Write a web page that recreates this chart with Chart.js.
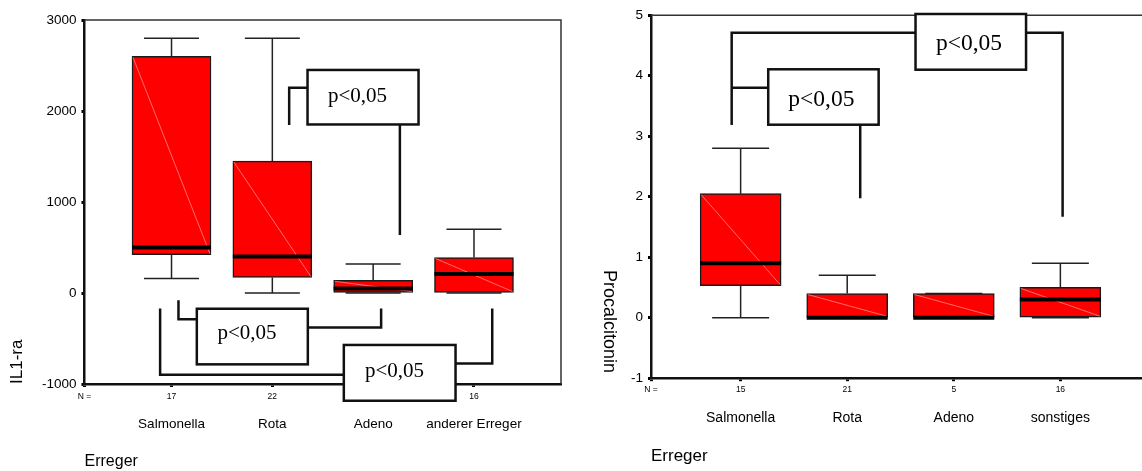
<!DOCTYPE html>
<html><head><meta charset="utf-8">
<script src="https://cdn.jsdelivr.net/npm/chart.js@4.4.1/dist/chart.umd.min.js"></script>
<style>
html,body{margin:0;padding:0;overflow:hidden;background:#fff;width:1142px;height:471px}
canvas{position:absolute;top:0}
#c1{left:0}
#c2{left:571px}
</style></head><body>
<canvas id="c1" width="571" height="471"></canvas>
<canvas id="c2" width="589" height="471"></canvas>
<script>
// ---------- Left chart data (IL1-ra) ----------
const leftCategories = ['Salmonella', 'Rota', 'Adeno', 'anderer Erreger'];
const leftN = ['17', '22', '', '16'];
const leftWhiskerLow = [160, 0, 0, 0];
const leftQ1 = [420, 170, 0, 0];
const leftMedian = [500, 400, 50, 210];
const leftQ3 = [2600, 1450, 140, 390];
const leftWhiskerHigh = [2800, 2800, 320, 700];
const leftYTicks = [-1000, 0, 1000, 2000, 3000];

// ---------- Right chart data (Procalcitonin) ----------
const rightCategories = ['Salmonella', 'Rota', 'Adeno', 'sonstiges'];
const rightN = ['15', '21', '5', '16'];
const rightWhiskerLow = [0, 0, 0, 0];
const rightQ1 = [0.53, 0, 0, 0];
const rightMedian = [0.9, 0, 0, 0.3];
const rightQ3 = [2.05, 0.4, 0.4, 0.5];
const rightWhiskerHigh = [2.8, 0.7, 0.4, 0.9];
const rightYTicks = [-1, 0, 1, 2, 3, 4, 5];

const sigLabel = 'p<0,05';

// significance annotations, in data units (x: category index, y: value)
const leftBrackets = [
  { box: [2.349, 3.450, 2451, 1852], text: [2.551, 2102],
    lines: [[[2.167, 1846], [2.167, 2256], [2.349, 2256]], [[3.265, 1852], [3.265, 637]]] },
  { box: [1.251, 2.352, -173, -784], text: [1.456, -510],
    lines: [[[1.069, -80], [1.069, -289], [1.251, -289]], [[2.352, -380], [3.079, -380], [3.079, -169]]] },
  { box: [2.709, 3.817, -571, -1184], text: [2.918, -926],
    lines: [[[0.887, -169], [0.887, -898], [2.709, -898]], [[3.817, -776], [4.181, -776], [4.181, -169]]] }
];
const rightBrackets = [
  { box: [1.259, 2.295, 4.106, 3.190], text: [1.447, 3.499],
    lines: [[[0.916, 3.185], [0.916, 4.711], [2.641, 4.711]], [[0.916, 3.802], [1.259, 3.802]], [[2.122, 3.190], [2.122, 1.974]]] },
  { box: [2.641, 3.678, 5.020, 4.099], text: [2.832, 4.425],
    lines: [[[3.678, 4.711], [4.021, 4.711], [4.021, 1.669]]] }
];

Chart.defaults.font.family = "'Liberation Sans', Arial, sans-serif";
Chart.defaults.color = '#000';

function boxPlugin(s) {
  return {
    id: 'boxplot_' + s.id,
    beforeDatasetsDraw(chart) {
      const ctx = chart.ctx, xs = chart.scales.x, ys = chart.scales.y;
      ctx.save();
      ctx.strokeStyle = '#222';
      ctx.lineWidth = 1.5;
      s.low.forEach((lo, i) => {
        const x = xs.getPixelForValue(i + 1);
        const yl = ys.getPixelForValue(lo), yq1 = ys.getPixelForValue(s.q1[i]);
        const yh = ys.getPixelForValue(s.high[i]), yq3 = ys.getPixelForValue(s.q3[i]);
        ctx.beginPath();
        ctx.moveTo(x, yq3); ctx.lineTo(x, yh);
        ctx.moveTo(x - s.cap / 2, yh); ctx.lineTo(x + s.cap / 2, yh);
        ctx.moveTo(x, yq1); ctx.lineTo(x, yl);
        ctx.moveTo(x - s.cap / 2, yl); ctx.lineTo(x + s.cap / 2, yl);
        ctx.stroke();
      });
      ctx.restore();
    },
    afterDatasetsDraw(chart) {
      const ctx = chart.ctx, ys = chart.scales.y;
      const meta = chart.getDatasetMeta(0);
      ctx.save();
      meta.data.forEach((el, i) => {
        const p = el.getProps(['x', 'y', 'base', 'width'], true);
        const l = p.x - p.width / 2 + 1, r = p.x + p.width / 2 - 1;
        const t = Math.min(p.y, p.base) + 1, b = Math.max(p.y, p.base) - 1;
        ctx.strokeStyle = 'rgba(255,170,170,0.9)';
        ctx.lineWidth = 0.7;
        ctx.beginPath(); ctx.moveTo(l, t); ctx.lineTo(r, b); ctx.stroke();
        const ym = ys.getPixelForValue(s.median[i]);
        ctx.strokeStyle = '#000';
        ctx.lineWidth = 4;
        ctx.beginPath(); ctx.moveTo(p.x - p.width / 2, ym); ctx.lineTo(p.x + p.width / 2, ym); ctx.stroke();
      });
      ctx.restore();
    },
    afterDraw(chart) {
      const ctx = chart.ctx, xs = chart.scales.x, ys = chart.scales.y, a = chart.chartArea;
      ctx.save();
      // frame top / right
      ctx.strokeStyle = '#333';
      ctx.lineWidth = 1.5;
      ctx.beginPath();
      ctx.moveTo(a.left, a.top); ctx.lineTo(a.right, a.top); ctx.lineTo(a.right, a.bottom);
      ctx.stroke();
      // significance brackets
      const X = v => xs.getPixelForValue(v), Y = v => ys.getPixelForValue(v);
      s.brackets.forEach(br => {
        ctx.strokeStyle = '#111';
        ctx.lineWidth = 2.5;
        ctx.lineJoin = 'miter';
        br.lines.forEach(pl => {
          ctx.beginPath();
          pl.forEach((pt, k) => k ? ctx.lineTo(X(pt[0]), Y(pt[1])) : ctx.moveTo(X(pt[0]), Y(pt[1])));
          ctx.stroke();
        });
        const x0 = X(br.box[0]), x1 = X(br.box[1]), y0 = Y(br.box[2]), y1 = Y(br.box[3]);
        ctx.fillStyle = '#fff';
        ctx.fillRect(x0, y0, x1 - x0, y1 - y0);
        ctx.strokeRect(x0, y0, x1 - x0, y1 - y0);
        ctx.fillStyle = '#000';
        ctx.font = s.pFont;
        ctx.textAlign = 'left';
        ctx.textBaseline = 'alphabetic';
        ctx.fillText(sigLabel, X(br.text[0]), Y(br.text[1]));
      });
      if (s.sideTitle) {
        ctx.translate(s.sideTitle.x, s.sideTitle.y);
        ctx.rotate(Math.PI / 2);
        ctx.font = s.sideTitle.font;
        ctx.fillStyle = '#000';
        ctx.textAlign = 'left';
        ctx.textBaseline = 'middle';
        ctx.fillText(s.sideTitle.text, 0, 0);
      }
      ctx.restore();
    }
  };
}

function makeChart(canvasId, o) {
  const tickSet = (arr) => (sc) => { sc.ticks = arr.map(v => ({ value: v })); };
  return new Chart(document.getElementById(canvasId), {
    type: 'bar',
    data: {
      datasets: [{
        data: o.cats.map((c, i) => ({ x: i + 1, y: [o.q1[i], o.q3[i]] })),
        backgroundColor: '#ff0000',
        borderColor: '#1a1a1a',
        borderWidth: 1.5,
        borderSkipped: false,
        barThickness: o.boxW
      }]
    },
    options: {
      responsive: false,
      animation: false,
      events: [],
      layout: { padding: { top: o.padTop, right: 10, left: 0, bottom: 0 } },
      plugins: { legend: { display: false }, tooltip: { enabled: false } },
      scales: {
        x: {
          type: 'linear', min: o.xMin, max: o.xMax, offset: false, position: 'bottom',
          afterBuildTicks: tickSet([o.xMin, 1, 2, 3, 4]),
          afterFit: sc => { sc.height = o.nH; },
          ticks: { autoSkip: false, maxRotation: 0, padding: o.nPad, font: { size: 8.5 }, color: '#000',
            callback: v => v < 0.5 ? 'N =' : o.n[Math.round(v) - 1] },
          grid: { display: true, drawOnChartArea: false, drawTicks: true, tickLength: 3, tickWidth: 3, color: '#000', offset: false },
          border: { display: true, color: '#111', width: 2.5 }
        },
        x2: {
          type: 'linear', min: o.xMin, max: o.xMax, offset: false, position: 'bottom',
          afterBuildTicks: tickSet([1, 2, 3, 4]),
          afterFit: sc => { sc.height = o.catH; },
          ticks: { autoSkip: false, maxRotation: 0, padding: o.catPad, font: { size: o.catSize }, color: '#000',
            callback: v => o.cats[Math.round(v) - 1] },
          grid: { display: false },
          border: { display: false },
          title: { display: true, text: 'Erreger', align: 'start', font: { size: o.titleSize }, color: '#000',
            padding: { top: 0, bottom: o.titlePadB } }
        },
        y: {
          type: 'linear', min: o.yMin, max: o.yMax,
          afterBuildTicks: tickSet(o.yTicks),
          afterFit: sc => { sc.width = o.yW; },
          ticks: { padding: 5, font: { size: 13.5 }, color: '#000', callback: v => String(v) },
          grid: { display: true, drawOnChartArea: false, drawTicks: true, tickLength: 3, tickWidth: 3, color: '#000' },
          border: { display: true, color: '#111', width: 2.5 },
          title: o.yTitle ? { display: true, text: o.yTitle, align: 'start', font: { size: 17 }, color: '#000',
            padding: { top: 7, bottom: 0 } } : { display: false }
        }
      }
    },
    plugins: [boxPlugin({
      id: canvasId, low: o.low, q1: o.q1, median: o.median, q3: o.q3, high: o.high,
      cap: o.capW, brackets: o.brackets, pFont: o.pFont, sideTitle: o.sideTitle
    })]
  });
}

makeChart('c1', {
  cats: leftCategories, n: leftN, low: leftWhiskerLow, q1: leftQ1, median: leftMedian, q3: leftQ3, high: leftWhiskerHigh,
  yTicks: leftYTicks, yMin: -1000, yMax: 3000, xMin: 0.137, xMax: 4.863,
  boxW: 79, capW: 55, padTop: 20, yW: 84.5, nH: 18, nPad: 5, catH: 69, catPad: 6, catSize: 13.5,
  titleSize: 16, titlePadB: 0, yTitle: 'IL1-ra', brackets: leftBrackets, pFont: "21px 'Liberation Serif', 'Times New Roman', serif"
});

makeChart('c2', {
  cats: rightCategories, n: rightN, low: rightWhiskerLow, q1: rightQ1, median: rightMedian, q3: rightQ3, high: rightWhiskerHigh,
  yTicks: rightYTicks, yMin: -1, yMax: 5, xMin: 0.159, xMax: 4.841,
  boxW: 81, capW: 57, padTop: 15.2, yW: 80, nH: 17, nPad: 3.7, catH: 75.8, catPad: 6.4, catSize: 14,
  titleSize: 17, titlePadB: 4, yTitle: null, brackets: rightBrackets, pFont: "23.5px 'Liberation Serif', 'Times New Roman', serif",
  sideTitle: { text: 'Procalcitonin', x: 38, y: 270, font: "18px 'Liberation Sans', Arial, sans-serif" }
});
</script>
</body></html>
